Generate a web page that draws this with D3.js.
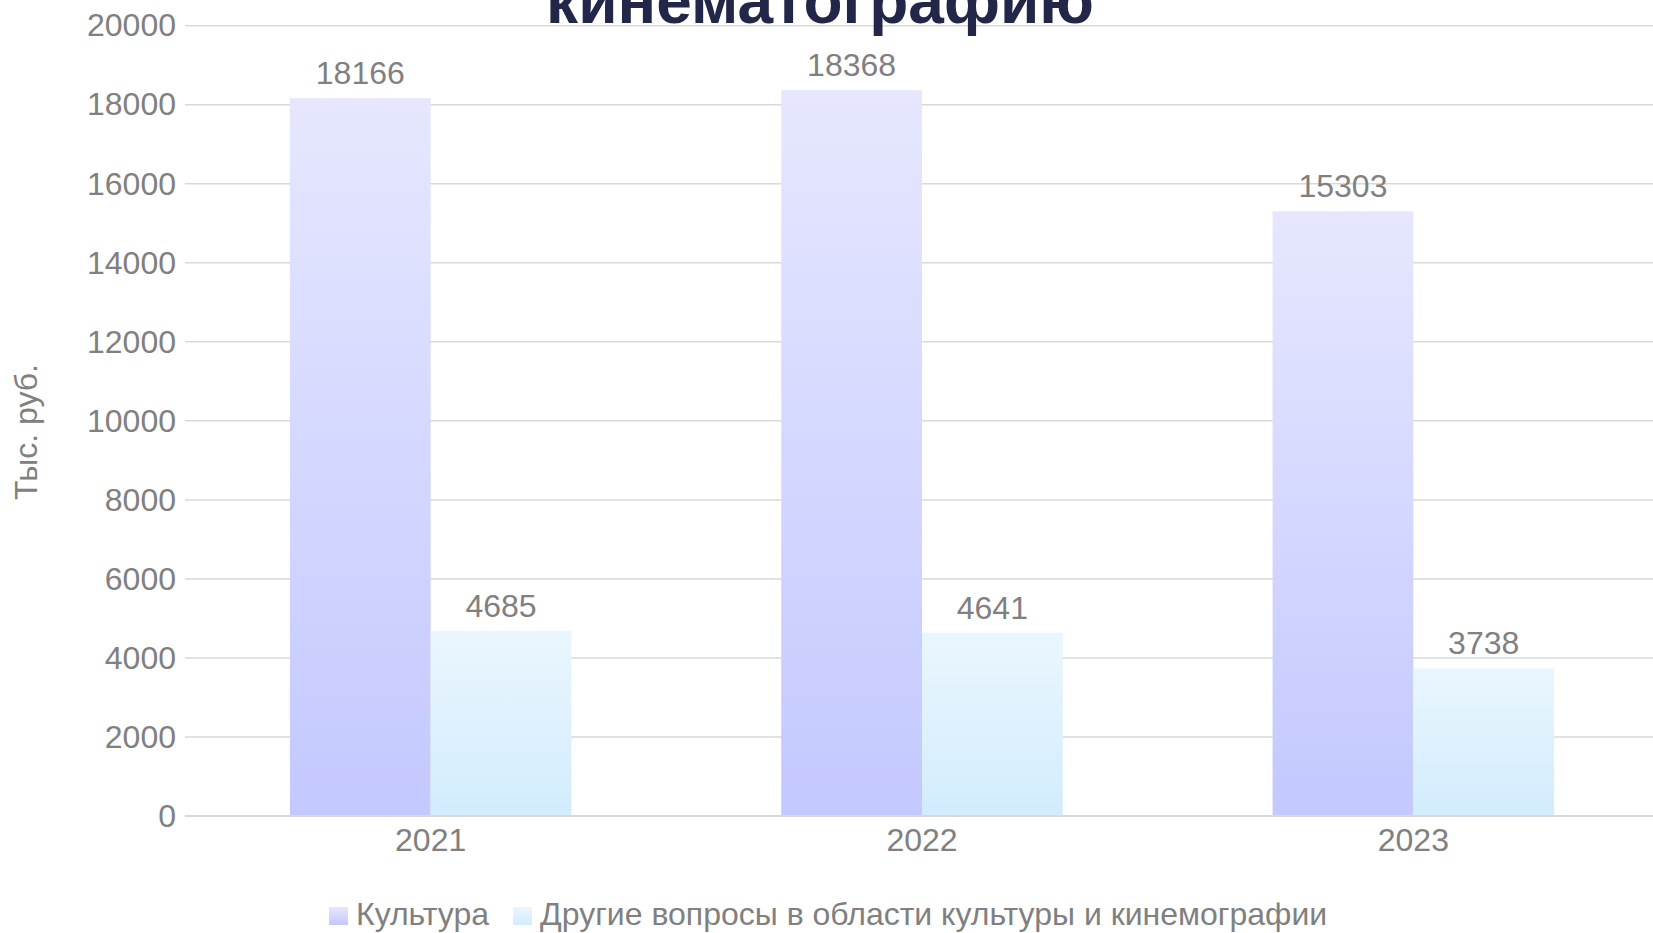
<!DOCTYPE html>
<html>
<head>
<meta charset="utf-8">
<script src="https://cdn.jsdelivr.net/npm/d3@7"></script>
<style>
  html, body { margin: 0; padding: 0; background: #ffffff; }
  svg { display: block; font-family: "Liberation Sans", Arial, sans-serif; }
</style>
</head>
<body>
<div id="chart"></div>
<script>
// Chart data.
var years = ["2021", "2022", "2023"];
var seriesNames = ["Культура", "Другие вопросы в области культуры и кинемографии"];
var cultureValues = [18166, 18368, 15303];
var otherValues = [4685, 4641, 3738];
var yTicks = [0, 2000, 4000, 6000, 8000, 10000, 12000, 14000, 16000, 18000, 20000];
var titleText = "кинематографию";
var yAxisTitle = "Тыс. руб.";

(function () {
  var width = 1653, height = 933;
  var plotLeft = 185, plotRight = 1653, plotTop = 25.7, plotBottom = 816;
  var textColor = "#808080";
  var fontSize = 32;

  var svg = d3.select("#chart").append("svg")
    .attr("width", width)
    .attr("height", height);

  // Gradients for each series (per bar, top to bottom).
  var defs = svg.append("defs");
  var gradientStops = [
    { id: "gradCulture", top: "#e6e7fe", bottom: "#c3c8fe" },
    { id: "gradOther", top: "#eaf6fe", bottom: "#d2ecfd" }
  ];
  gradientStops.forEach(function (g) {
    var lg = defs.append("linearGradient")
      .attr("id", g.id)
      .attr("x1", 0).attr("y1", 0)
      .attr("x2", 0).attr("y2", 1);
    lg.append("stop").attr("offset", "0%").attr("stop-color", g.top);
    lg.append("stop").attr("offset", "100%").attr("stop-color", g.bottom);
  });

  // Category bands run slightly past the right edge, like the original.
  var x0 = d3.scaleBand()
    .domain(years)
    .range([plotLeft, 1659])
    .paddingInner(0.427)
    .paddingOuter(0.2135);

  var x1 = d3.scaleBand()
    .domain([0, 1])
    .range([0, x0.bandwidth()]);

  var y = d3.scaleLinear()
    .domain([0, 20000])
    .range([plotBottom, plotTop]);

  // Horizontal gridlines.
  svg.append("g")
    .attr("class", "grid")
    .selectAll("line")
    .data(yTicks.filter(function (d) { return d > 0; }))
    .enter()
    .append("line")
    .attr("x1", plotLeft)
    .attr("x2", plotRight)
    .attr("y1", function (d) { return y(d); })
    .attr("y2", function (d) { return y(d); })
    .attr("stroke", "#d9d9d9")
    .attr("stroke-width", 1.5);

  // Y axis labels.
  var yAxisG = svg.append("g")
    .attr("class", "y-axis")
    .attr("transform", "translate(" + plotLeft + ",0)")
    .call(d3.axisLeft(y).tickValues(yTicks).tickSize(0).tickPadding(9).tickFormat(d3.format("d")));
  yAxisG.select(".domain").remove();
  yAxisG.selectAll("text")
    .attr("fill", textColor)
    .style("font-size", fontSize + "px")
    .style("font-family", "'Liberation Sans', Arial, sans-serif");

  // Bars.
  var rows = years.map(function (yr, i) {
    return { year: yr, values: [cultureValues[i], otherValues[i]] };
  });

  var groups = svg.selectAll(".group")
    .data(rows)
    .enter()
    .append("g")
    .attr("class", "group")
    .attr("transform", function (d) { return "translate(" + x0(d.year) + ",0)"; });

  groups.selectAll("rect")
    .data(function (d) { return d.values.map(function (v, k) { return { k: k, v: v }; }); })
    .enter()
    .append("rect")
    .attr("x", function (d) { return x1(d.k); })
    .attr("y", function (d) { return y(d.v); })
    .attr("width", x1.bandwidth())
    .attr("height", function (d) { return y(0) - y(d.v); })
    .attr("fill", function (d) { return d.k === 0 ? "url(#gradCulture)" : "url(#gradOther)"; });

  groups.selectAll(".bar-text")
    .data(function (d) { return d.values.map(function (v, k) { return { k: k, v: v }; }); })
    .enter()
    .append("text")
    .attr("class", "bar-text")
    .attr("x", function (d) { return x1(d.k) + x1.bandwidth() / 2; })
    .attr("y", function (d) { return y(d.v) - 14; })
    .attr("text-anchor", "middle")
    .attr("fill", textColor)
    .style("font-size", fontSize + "px")
    .text(function (d) { return d.v; });

  // Baseline.
  svg.append("line")
    .attr("x1", plotLeft)
    .attr("x2", plotRight)
    .attr("y1", y(0))
    .attr("y2", y(0))
    .attr("stroke", "#d9d9d9")
    .attr("stroke-width", 2);

  // X axis labels.
  var xAxisG = svg.append("g")
    .attr("class", "x-axis")
    .attr("transform", "translate(0," + y(0) + ")")
    .call(d3.axisBottom(x0).tickSize(0).tickPadding(12));
  xAxisG.select(".domain").remove();
  xAxisG.selectAll("text")
    .attr("fill", textColor)
    .style("font-size", fontSize + "px")
    .style("font-family", "'Liberation Sans', Arial, sans-serif");

  // Y axis title.
  svg.append("text")
    .attr("transform", "translate(37,432) rotate(-90)")
    .attr("text-anchor", "middle")
    .attr("fill", textColor)
    .style("font-size", "32px")
    .text(yAxisTitle);

  // Title (only last line visible).
  svg.append("text")
    .attr("x", 820)
    .attr("y", 23)
    .attr("text-anchor", "middle")
    .attr("fill", "#222649")
    .style("font-size", "64px")
    .style("font-weight", "bold")
    .text(titleText);

  // Legend.
  var legend = svg.append("g").attr("class", "legend");
  var swatchFill = ["url(#gradCulture)", "url(#gradOther)"];
  var lx = 329;
  seriesNames.forEach(function (name, i) {
    var item = legend.append("g").attr("transform", "translate(" + lx + ",907)");
    item.append("rect")
      .attr("width", 19)
      .attr("height", 18)
      .attr("fill", swatchFill[i]);
    var t = item.append("text")
      .attr("x", 27)
      .attr("y", 18)
      .attr("fill", textColor)
      .style("font-size", "32px")
      .text(name);
    lx += 27 + t.node().getComputedTextLength() + 24;
  });
})();
</script>
</body>
</html>
